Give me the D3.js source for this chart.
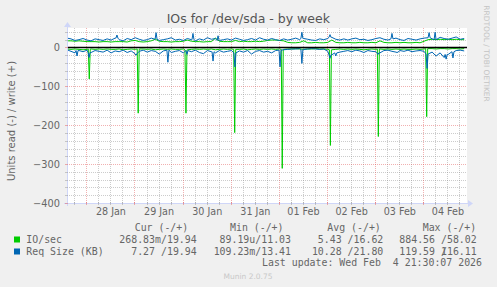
<!DOCTYPE html>
<html>
<head>
<meta charset="utf-8">
<script src="https://cdn.jsdelivr.net/npm/d3@7"></script>
<style>
body { margin: 0; background: #f0f0f0; }
</style>
</head>
<body>
<div id="chart"></div>
<script>
// time window of the week graph
var startTime = new Date(2026, 0, 27, 14, 22);
var endTime = new Date(2026, 1, 4, 21, 46);
var stepHours = 2;

// IO/sec write (+), one value every 2 hours
var ioWrite = [17,17,16,17,16,15,15,15,14,15,
  15,14,15,15,15,14,17,18,15,14,
  15,17,21,16,15,15,14,15,15,16,
  19,16,15,15,14,15,15,24,16,15,
  15,15,18,15,16,15,15,16,15,16,
  18,19,19,18,17,13,12,12,13,17,
  12,12,13,12,12,13,19,13,12,12,
  13,12,12,13,12,12,13,12,17,13,
  12,12,13,12,13,12,12,13,12,16,
  20,21,20,21,20,21,20,21,20,20];

// IO/sec read (-)
var ioRead = [-4,-5,-4,-5,-6,-5,-4,-5,-4,-5,
  -4,-5,-5,-4,-6,-5,-4,-5,-4,-4,
  -5,-4,-6,-5,-4,-5,-4,-5,-5,-4,
  -6,-5,-4,-5,-4,-5,-4,-6,-5,-4,
  -5,-4,-5,-5,-4,-6,-5,-4,-5,-4,
  -5,-4,-5,-4,-5,-4,-4,-3,-4,-5,
  -4,-4,-3,-4,-4,-5,-6,-5,-4,-5,
  -4,-5,-4,-5,-6,-5,-4,-5,-4,-5,
  -4,-5,-4,-5,-4,-5,-5,-4,-5,-4,
  -3,-3,-4,-3,-3,-4,-3,-3,-4,-3];
var ioReadSpikeHours = [11.1, 35.5, 59.3, 83.6, 107.3, 131.3, 155.2, 179.3];
var ioReadSpikeValues = [-81, -169, -169, -219, -311, -252, -229, -178];

// Req Size (KB) write (+)
var sizeWrite = [24,22,18,20,23,19,17,22,20,18,
  22,19,24,20,17,23,20,25,21,18,
  20,24,21,18,20,22,25,19,21,18,
  23,20,17,22,19,25,21,23,18,20,
  22,19,24,21,18,20,23,19,25,21,
  19,23,20,18,22,19,21,24,20,23,
  21,19,18,22,20,23,26,21,19,22,
  19,22,24,20,21,18,20,23,25,21,
  19,22,24,20,18,23,21,19,22,24,
  25,22,20,26,23,21,24,27,21,23];
var sizeWriteSpikeHours = [24.9, 44.4, 62.8, 75.3, 117.1, 131.1, 162, 180.5, 183.5];
var sizeWriteSpikeValues = [32, 38, 36, 30, 39, 33, 36, 38, 39];

// Req Size (KB) read (-)
var sizeRead = [-6,-10,-14,-8,-11,-7,-13,-8,-10,-12,
  -7,-14,-9,-11,-7,-13,-9,-16,-10,-7,
  -12,-8,-10,-17,-9,-7,-13,-10,-8,-14,
  -8,-11,-7,-13,-16,-8,-11,-14,-8,-12,
  -10,-8,-14,-9,-12,-8,-17,-10,-8,-12,
  -10,-14,-8,-7,-6,-5,-4,-4,-3,-5,
  -4,-3,-4,-5,-4,-10,-19,-14,-12,-10,
  -8,-11,-7,-9,-13,-8,-10,-11,-14,-8,
  -7,-10,-12,-8,-10,-7,-11,-9,-8,-10,
  -17,-12,-22,-14,-26,-18,-11,-8,-7,-9];
var sizeReadSpikeHours = [5, 11, 34.4, 50.3, 59.8, 72.8, 83.7, 106.2, 117.1, 131.1, 134, 155, 164.5, 179.5, 189, 192.4];
var sizeReadSpikeValues = [-22, -26, -20, -38, -18, -35, -50, -50, -41, -28, -22, -18, -13, -54, -30, -27];

var yTicks = [0, -100, -200, -300, -400];

var legendNames = ["IO/sec", "Req Size (KB)"];
var legendColors = ["#00cc00", "#0066b3"];
var curValues = ["268.83m/19.94", "7.27 /19.94"];
var minValues = ["89.19u/11.03", "109.23m/13.41"];
var avgValues = ["5.43 /16.62", "10.28 /21.80"];
var maxValues = ["884.56 /58.02", "119.59 /116.11"];
var legendHeaders = ["Cur (-/+)", "Min (-/+)", "Avg (-/+)", "Max (-/+)"];

var width = 497, height = 287;
var plot = {left: 67, right: 467, top: 28, bottom: 203};

var svg = d3.select("#chart")
  .append("svg")
  .attr("width", width)
  .attr("height", height)
  .style("font-family", "'DejaVu Sans', sans-serif");

svg.append("rect")
  .attr("width", width).attr("height", height)
  .attr("fill", "#f0f0f0");

var x = d3.scaleTime()
  .domain([startTime, endTime])
  .range([plot.left, plot.right]);

var y = d3.scaleLinear()
  .domain([-400, 50])
  .range([plot.bottom, plot.top]);

svg.append("rect")
  .attr("x", plot.left).attr("y", plot.top)
  .attr("width", plot.right - plot.left)
  .attr("height", plot.bottom - plot.top)
  .attr("fill", "#ffffff");

var gridColor = "rgba(143,143,143,0.45)";
var mgridColor = "rgba(225,80,80,0.45)";

// minor grid
var minorX = d3.timeHour.every(6).range(startTime, endTime)
  .filter(function(d){ return d.getHours() != 0; });
var majorX = d3.timeDay.range(startTime, endTime);
var minorY = d3.range(-380, 50, 20).filter(function(v){ return v % 100 != 0; });

var grid = svg.append("g");
grid.selectAll(".vminor").data(minorX).enter()
  .append("line")
  .attr("x1", function(d){ return Math.round(x(d)) + 0.5; })
  .attr("x2", function(d){ return Math.round(x(d)) + 0.5; })
  .attr("y1", plot.top).attr("y2", plot.bottom)
  .style("stroke", gridColor).style("stroke-dasharray", "1,1");
grid.selectAll(".hminor").data(minorY).enter()
  .append("line")
  .attr("x1", plot.left).attr("x2", plot.right)
  .attr("y1", function(d){ return Math.round(y(d)) + 0.5; })
  .attr("y2", function(d){ return Math.round(y(d)) + 0.5; })
  .style("stroke", gridColor).style("stroke-dasharray", "1,1");
grid.selectAll(".vmajor").data(majorX).enter()
  .append("line")
  .attr("x1", function(d){ return Math.round(x(d)) + 0.5; })
  .attr("x2", function(d){ return Math.round(x(d)) + 0.5; })
  .attr("y1", plot.top).attr("y2", plot.bottom)
  .style("stroke", mgridColor).style("stroke-dasharray", "1,1");
grid.selectAll(".hmajor").data(yTicks.filter(function(v){ return v > -400; })).enter()
  .append("line")
  .attr("x1", plot.left).attr("x2", plot.right)
  .attr("y1", function(d){ return Math.round(y(d)) + 0.5; })
  .attr("y2", function(d){ return Math.round(y(d)) + 0.5; })
  .style("stroke", mgridColor).style("stroke-dasharray", "1,1");

// build the line points, needles of the spike lists dropped in
function hourDate(h){
  return new Date(startTime.getTime() + h * 3600000);
}
function buildPoints(base, spikeHours, spikeValues){
  var pts = base.map(function(v, i){ return {h: i * stepHours, v: v}; });
  if (spikeHours) {
    pts = pts.filter(function(p){
      return !spikeHours.some(function(s){ return Math.abs(s - p.h) < 0.6; });
    });
    spikeHours.forEach(function(s, k){
      var foot = base[Math.min(base.length - 1, Math.round(s / stepHours))];
      pts.push({h: s - 0.5, v: foot});
      pts.push({h: s, v: spikeValues[k]});
      pts.push({h: s + 0.5, v: foot});
    });
    pts.sort(function(a, b){ return a.h - b.h; });
  }
  return pts;
}

var line = d3.line()
  .x(function(d){ return x(hourDate(d.h)); })
  .y(function(d){ return y(d.v); });

var series = [
  {pts: buildPoints(ioRead, ioReadSpikeHours, ioReadSpikeValues), color: legendColors[0]},
  {pts: buildPoints(ioWrite), color: legendColors[0]},
  {pts: buildPoints(sizeRead, sizeReadSpikeHours, sizeReadSpikeValues), color: legendColors[1]},
  {pts: buildPoints(sizeWrite, sizeWriteSpikeHours, sizeWriteSpikeValues), color: legendColors[1]}
];

svg.append("defs").append("clipPath").attr("id", "clip")
  .append("rect")
  .attr("x", plot.left).attr("y", plot.top)
  .attr("width", plot.right - plot.left)
  .attr("height", plot.bottom - plot.top);

svg.append("g").attr("clip-path", "url(#clip)")
  .selectAll("path").data(series).enter()
  .append("path")
  .attr("d", function(d){ return line(d.pts); })
  .style("fill", "none")
  .style("stroke", function(d){ return d.color; })
  .style("stroke-width", 1);

// zero line
svg.append("line")
  .attr("x1", plot.left).attr("x2", plot.right)
  .attr("y1", y(0)).attr("y2", y(0))
  .style("stroke", "#000").style("stroke-width", 1.5);

// axes lines with arrows
var axisColor = "#cfd6f8";
svg.append("line")
  .attr("x1", plot.left - 3).attr("x2", plot.right + 3)
  .attr("y1", plot.bottom + 0.5).attr("y2", plot.bottom + 0.5)
  .style("stroke", axisColor);
svg.append("line")
  .attr("x1", plot.left + 0.5).attr("x2", plot.left + 0.5)
  .attr("y1", plot.bottom + 3).attr("y2", plot.top - 3)
  .style("stroke", axisColor);
svg.append("path")
  .attr("d", "M" + (plot.right + 6) + "," + (plot.bottom + 0.5) + "l-5,-3.5l0,7z")
  .style("fill", axisColor);
svg.append("path")
  .attr("d", "M" + (plot.left + 0.5) + "," + (plot.top - 6) + "l-3.5,5l7,0z")
  .style("fill", axisColor);

// small tick marks on the axes
svg.selectAll(".xtick").data(minorX.concat(majorX)).enter()
  .append("line")
  .attr("x1", function(d){ return Math.round(x(d)) + 0.5; })
  .attr("x2", function(d){ return Math.round(x(d)) + 0.5; })
  .attr("y1", plot.bottom - 1).attr("y2", plot.bottom + 2)
  .style("stroke", function(d){ return d.getHours() == 0 ? mgridColor : gridColor; });
svg.selectAll(".ytick").data(minorY.concat(yTicks)).enter()
  .append("line")
  .attr("x1", plot.left - 2).attr("x2", plot.left + 1)
  .attr("y1", function(d){ return Math.round(y(d)) + 0.5; })
  .attr("y2", function(d){ return Math.round(y(d)) + 0.5; })
  .style("stroke", function(d){ return d % 100 == 0 ? mgridColor : gridColor; });

// axis labels
var yAxis = svg.append("g")
  .attr("transform", "translate(" + plot.left + ",0)")
  .call(d3.axisLeft(y).tickValues(yTicks).tickSize(0).tickPadding(7));
yAxis.select(".domain").remove();
yAxis.selectAll("text")
  .style("font-family", "'DejaVu Sans'")
  .style("font-size", "9.8px")
  .style("fill", "#666");

var noons = majorX.map(function(d){ return d3.timeHour.offset(d, 12); });
var xAxis = svg.append("g")
  .attr("transform", "translate(0," + plot.bottom + ")")
  .call(d3.axisBottom(x).tickValues(noons).tickFormat(d3.timeFormat("%d %b")).tickSize(0).tickPadding(5.5));
xAxis.select(".domain").remove();
xAxis.selectAll("text")
  .style("font-family", "'DejaVu Sans'")
  .style("font-size", "9.6px")
  .style("fill", "#666");

// title and side texts
svg.append("text")
  .attr("x", 248.3).attr("y", 23)
  .attr("text-anchor", "middle")
  .style("font-size", "12.5px")
  .style("fill", "#555")
  .text("IOs for /dev/sda - by week");

svg.append("text")
  .attr("transform", "translate(15,121) rotate(-90)")
  .attr("text-anchor", "middle")
  .style("font-size", "10px")
  .style("fill", "#666")
  .text("Units read (-) / write (+)");

svg.append("text")
  .attr("transform", "translate(483.5,53.5) rotate(90)")
  .attr("text-anchor", "middle")
  .style("font-size", "7.5px")
  .style("fill", "#c4c4c4")
  .text("RRDTOOL / TOBI OETIKER");

svg.append("text")
  .attr("x", 248).attr("y", 279)
  .attr("text-anchor", "middle")
  .style("font-size", "7.5px")
  .style("fill", "#c8c8c8")
  .text("Munin 2.0.75");

// legend
var mono = "'DejaVu Sans Mono', monospace";
var charW = 5.96;
var headerX = [134.7, 230, 327.3, 422.7];
var colEnd = [196.7, 291, 383.3, 476.7];
var rowY = [242.5, 254.5];

var legend = svg.append("g")
  .style("font-family", mono)
  .style("font-size", "9.9px")
  .style("fill", "#666");

legend.selectAll(".hdr").data(legendHeaders).enter()
  .append("text")
  .attr("x", function(d, i){ return headerX[i]; })
  .attr("y", 230.5)
  .attr("xml:space", "preserve")
  .text(function(d){ return d; });

legendNames.forEach(function(name, r){
  legend.append("rect")
    .attr("x", 14).attr("y", rowY[r] - 6)
    .attr("width", 6).attr("height", 6)
    .style("fill", legendColors[r]);
  legend.append("text")
    .attr("x", 26.3).attr("y", rowY[r])
    .attr("xml:space", "preserve")
    .text(name);
  [curValues, minValues, avgValues, maxValues].forEach(function(col, c){
    var parts = col[r].split("/");
    legend.append("text")
      .attr("x", colEnd[c] - 5 * charW).attr("y", rowY[r])
      .attr("text-anchor", "end")
      .attr("xml:space", "preserve")
      .text(parts[0] + "/");
    legend.append("text")
      .attr("x", colEnd[c]).attr("y", rowY[r])
      .attr("text-anchor", "end")
      .text(parts[1]);
  });
});

legend.append("text")
  .attr("x", 482).attr("y", 265.5)
  .attr("text-anchor", "end")
  .attr("xml:space", "preserve")
  .text("Last update: Wed Feb  4 21:30:07 2026");
</script>
</body>
</html>
